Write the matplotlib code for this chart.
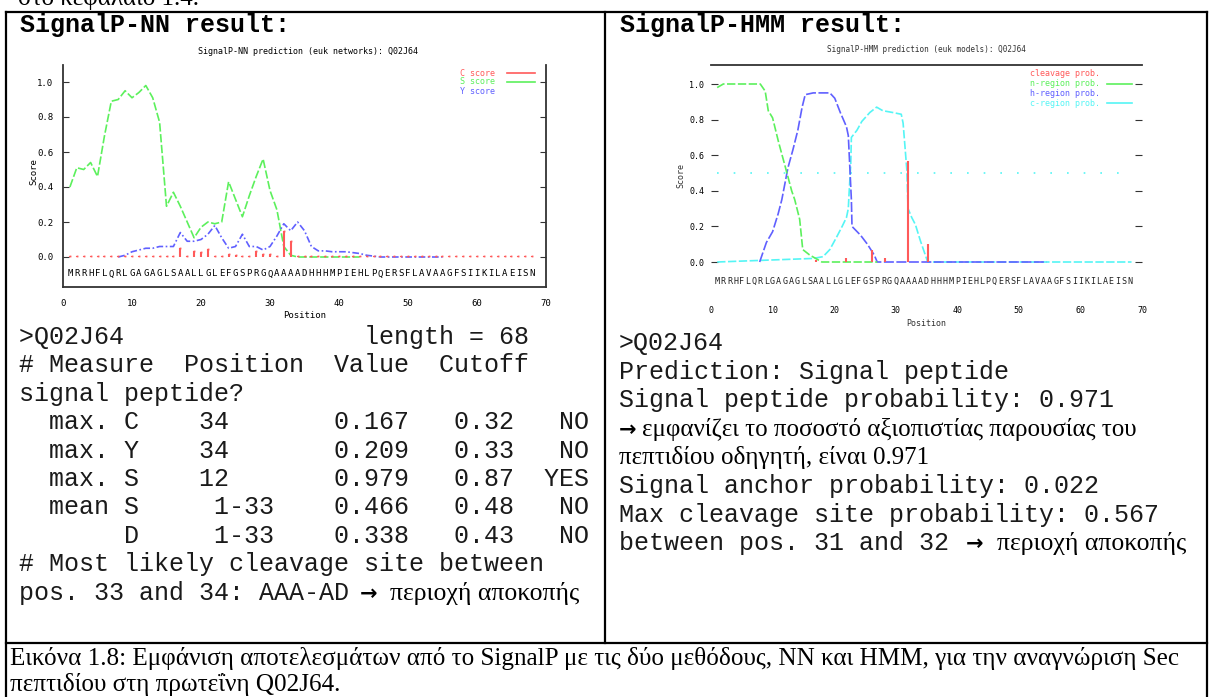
import matplotlib.pyplot as plt
from matplotlib.ticker import FixedLocator

W, H = 1210, 697

# ---------------- data ----------------
sequence = "MRRHFLQRLGAGAGLSAALLGLEFGSPRGQAAAADHHHMPIEHLPQERSFLAVAAGFSIIKILAEISN"

# SignalP-NN
nn_s_pos = list(range(1, 44))
nn_s = [0.40, 0.51, 0.50, 0.54, 0.46, 0.69, 0.89, 0.90, 0.95, 0.91,
        0.94, 0.98, 0.91, 0.77, 0.29, 0.37, 0.29, 0.20, 0.11, 0.17,
        0.20, 0.19, 0.20, 0.43, 0.33, 0.23, 0.35, 0.46, 0.56, 0.38,
        0.27, 0.06, 0.01, 0.0, 0.0, 0.0, 0.0, 0.0, 0.0, 0.0,
        0.0, 0.0, 0.0]
nn_y_pos = list(range(8, 56))
nn_y = [0.0, 0.01, 0.03, 0.04, 0.05, 0.05, 0.06, 0.06, 0.06, 0.14,
        0.09, 0.09, 0.10, 0.13, 0.18, 0.11, 0.05, 0.06, 0.13, 0.06,
        0.06, 0.04, 0.06, 0.12, 0.19, 0.15, 0.20, 0.15, 0.06, 0.035,
        0.035, 0.03, 0.03, 0.03, 0.025, 0.02, 0.01, 0.005, 0.0, 0.0,
        0.0, 0.0, 0.0, 0.0, 0.0, 0.0, 0.0, 0.0]
nn_c_pos = list(range(1, 69))
nn_c = [0.004, 0.004, 0.004, 0.004, 0.004, 0.004, 0.004, 0.004, 0.004, 0.004,
        0.004, 0.004, 0.004, 0.004, 0.004, 0.004, 0.05, 0.004, 0.035, 0.03,
        0.045, 0.004, 0.004, 0.015, 0.012, 0.004, 0.004, 0.035, 0.015, 0.02,
        0.004, 0.15, 0.09, 0.004, 0.004, 0.004, 0.004, 0.004, 0.004, 0.004,
        0.004, 0.004, 0.004, 0.004, 0.004, 0.004, 0.004, 0.004, 0.004, 0.004,
        0.004, 0.004, 0.004, 0.004, 0.004, 0.004, 0.004, 0.004, 0.004, 0.004,
        0.004, 0.004, 0.004, 0.004, 0.004, 0.004, 0.004, 0.004]

# SignalP-HMM
hmm_n_pos = [1, 2, 8, 8.8, 9.3, 10, 11, 12.1, 13.1, 13.6, 14.4, 14.9, 16, 17, 18, 27]
hmm_n = [0.98, 1.0, 1.0, 0.96, 0.85, 0.81, 0.67, 0.53, 0.40, 0.35, 0.24, 0.07, 0.04, 0.02, 0.0, 0.0]
hmm_h_pos = [7.9, 9.0, 10.0, 10.9, 11.5, 12.5, 13.3, 14.1, 14.8, 15.3, 16.6, 19.3, 20.1,
             21.0, 22.0, 22.3, 22.8, 22.9, 24.3, 25.4, 26.5, 27.0, 54.5]
hmm_h = [0.0, 0.11, 0.17, 0.27, 0.35, 0.53, 0.63, 0.74, 0.87, 0.94, 0.95, 0.95, 0.92,
         0.84, 0.76, 0.71, 0.35, 0.20, 0.15, 0.10, 0.04, 0.0, 0.0]
hmm_c_pos = [1, 16.6, 18.2, 19.3, 20.4, 21.3, 22.0, 22.3, 22.4, 22.7, 22.8, 23.7, 24.5, 25.8,
             26.9, 27.9, 29.5, 30.9, 31.2, 31.5, 31.8, 32.0, 32.6, 33.2, 34.0, 34.7, 35.2, 68.3]
hmm_c = [0.0, 0.02, 0.03, 0.07, 0.14, 0.20, 0.25, 0.30, 0.37, 0.55, 0.70, 0.74, 0.79, 0.84,
         0.87, 0.85, 0.84, 0.83, 0.78, 0.65, 0.52, 0.30, 0.25, 0.21, 0.12, 0.05, 0.0, 0.0]
hmm_cl_pos = [17, 22, 26.2, 28.3, 32, 35.2]
hmm_cl = [0.01, 0.025, 0.07, 0.02, 0.567, 0.10]

yticks = [0.0, 0.2, 0.4, 0.6, 0.8, 1.0]
ytick_labels = ['0.0', '0.2', '0.4', '0.6', '0.8', '1.0']
xticks = [0, 10, 20, 30, 40, 50, 60, 70]

nn_lines = [">Q02J64                length = 68",
            "# Measure  Position  Value  Cutoff",
            "signal peptide?",
            "  max. C    34       0.167   0.32   NO",
            "  max. Y    34       0.209   0.33   NO",
            "  max. S    12       0.979   0.87  YES",
            "  mean S     1-33    0.466   0.48   NO",
            "       D     1-33    0.338   0.43   NO",
            "# Most likely cleavage site between",
            "pos. 33 and 34: AAA-AD"]
hmm_lines = [">Q02J64",
             "Prediction: Signal peptide",
             "Signal peptide probability: 0.971",
             None,
             None,
             "Signal anchor probability: 0.022",
             "Max cleavage site probability: 0.567",
             "between pos. 31 and 32"]
greek_note = "περιοχή αποκοπής"
greek_l4 = "εμφανίζει το ποσοστό αξιοπιστίας παρουσίας του"
greek_l5 = "πεπτιδίου οδηγητή, είναι 0.971"
caption1 = "Εικόνα 1.8: Εμφάνιση αποτελεσμάτων από το SignalP με τις δύο μεθόδους, NN και HMM, για την αναγνώριση Sec"
caption2 = "πεπτιδίου στη πρωτεΐνη Q02J64."

RED, GREEN, BLUE, CYAN = '#ff5a5a', '#5cf05c', '#6060ff', '#55f5f5'
MONO = 'Liberation Mono'
SERIF = ['Liberation Serif', 'DejaVu Serif']
TINY = 'DejaVu Sans Mono'
TXT = '#1a1a1a'


def rect(x0, y0, x1, y1):
    return [x0 / W, 1 - y1 / H, (x1 - x0) / W, (y1 - y0) / H]


fig = plt.figure(figsize=(W / 100, H / 100), dpi=100)
bg = fig.add_axes([0, 0, 1, 1])
bg.set_xlim(0, W)
bg.set_ylim(H, 0)
bg.axis('off')

# table frame
lw = 1.6
bg.plot([6, 1207], [12, 12], color='k', lw=lw)
bg.plot([6, 1207], [643, 643], color='k', lw=lw)
bg.plot([6, 6], [12, 697], color='k', lw=lw)
bg.plot([1207, 1207], [12, 697], color='k', lw=lw)
bg.plot([605, 605], [12, 643], color='k', lw=lw)

bg.text(18, 5, "στο κεφάλαιο 1.4.", family=SERIF, fontsize=18, va='baseline')
bg.text(20, 32, "SignalP-NN result:", family=MONO, fontsize=18, weight='bold', va='baseline')
bg.text(620, 32, "SignalP-HMM result:", family=MONO, fontsize=18, weight='bold', va='baseline')

# ---------------- NN chart ----------------
ax1 = fig.add_axes(rect(63, 65, 546, 287))
ax1.patch.set_visible(False)
ax1.set_xlim(0, 70)
ax1.set_ylim((257 - 287) / 175, (257 - 65) / 175)
for s in ['left', 'bottom', 'right']:
    ax1.spines[s].set_color('#333333')
    ax1.spines[s].set_linewidth(1.3)
ax1.spines['top'].set_visible(False)
ax1.set_yticks(yticks)
ax1.set_yticklabels(ytick_labels, family=TINY)
ax1.set_xticks(xticks)
ax1.set_xticklabels([str(v) for v in xticks], family=TINY)
ax1.xaxis.set_minor_locator(FixedLocator([20, 30, 40]))
ax1.tick_params(axis='y', direction='in', length=4, right=True, labelsize=6.5, pad=7, color='#333333')
ax1.tick_params(axis='x', which='major', length=0, labelsize=6.5, pad=9)
ax1.tick_params(axis='x', which='minor', direction='in', length=4, top=True, color='#333333')

ax1.plot(nn_s_pos, nn_s, color=GREEN, lw=1.2, ls=(0, (5, 1.5)))
ax1.plot(nn_y_pos, nn_y, color=BLUE, lw=1.2, ls=(0, (4, 1.5, 1, 1.5)))
ax1.vlines(nn_c_pos, 0, nn_c, color=RED, lw=1.5)
ax1.plot(nn_c_pos, nn_c, ls='none', marker='s', ms=1.3, mew=0, color=RED)
for i, aa in enumerate(sequence, 1):
    ax1.text(i, -0.097, aa, ha='center', va='center', fontsize=6.5, family=TINY)

bg.text(308, 51, "SignalP-NN prediction (euk networks): Q02J64", family=TINY, fontsize=6, ha='center', va='center')
bg.text(305, 316, "Position", family=TINY, fontsize=6.5, ha='center', va='center')
bg.text(34, 172, "Score", family=TINY, fontsize=6.5, rotation=90, ha='center', va='center')
for j, (lab, col) in enumerate([("C score", RED), ("S score", GREEN), ("Y score", BLUE)]):
    bg.text(460, 73 + 9 * j, lab, color=col, family=TINY, fontsize=6, va='center')
    if j < 2:
        bg.plot([507, 535], [73 + 9 * j, 73 + 9 * j], color=col, lw=1.2)

# ---------------- HMM chart ----------------
ax2 = fig.add_axes(rect(711, 65, 1142, 300))
ax2.patch.set_visible(False)
ax2.set_xlim(0, 70)
ax2.set_ylim((262 - 300) / 178, (262 - 65) / 178)
for s in ['left', 'bottom', 'right']:
    ax2.spines[s].set_visible(False)
ax2.spines['top'].set_color('#333333')
ax2.spines['top'].set_linewidth(1.3)
ax2.set_yticks(yticks)
ax2.set_yticklabels(ytick_labels, family=TINY)
ax2.set_xticks(xticks)
ax2.set_xticklabels([str(v) for v in xticks], family=TINY)
ax2.xaxis.set_minor_locator(FixedLocator([10, 50]))
ax2.tick_params(axis='y', direction='in', length=5, right=True, labelsize=6, pad=5, color='#333333')
ax2.tick_params(axis='x', which='major', length=0, labelsize=6, pad=4)
ax2.tick_params(axis='x', which='minor', direction='in', length=5, top=True, color='#333333')

ax2.axhline(0.5, xmin=1 / 70, xmax=68.3 / 70, color=CYAN, lw=1.2, ls=(0, (1, 9)))
ax2.plot(hmm_c_pos, hmm_c, color=CYAN, lw=1.2, ls=(0, (5, 1.5)))
ax2.plot(hmm_h_pos, hmm_h, color=BLUE, lw=1.2, ls=(0, (6, 1.5)))
ax2.plot(hmm_n_pos, hmm_n, color=GREEN, lw=1.2, ls=(0, (5, 1.5)))
ax2.vlines(hmm_cl_pos, 0, hmm_cl, color=RED, lw=1.5)
for i, aa in enumerate(sequence, 1):
    ax2.text(i, -0.107, aa, ha='center', va='center', fontsize=6, family=TINY, color='#222222')

bg.text(926, 49, "SignalP-HMM prediction (euk models): Q02J64", family=TINY, fontsize=5.5, ha='center',
        va='center', color='#333333')
bg.text(926, 323, "Position", family=TINY, fontsize=6, ha='center', va='center', color='#333333')
bg.text(681, 175, "Score", family=TINY, fontsize=6, rotation=90, ha='center', va='center', color='#333333')
for j, (lab, col) in enumerate([("cleavage prob.", RED), ("n-region prob.", GREEN),
                                ("h-region prob.", BLUE), ("c-region prob.", CYAN)]):
    yy = 74 + 9.7 * j
    bg.text(1100, yy, lab, color=col, family=TINY, fontsize=6, va='center', ha='right')
    if j in (1, 3):
        bg.plot([1107, 1132], [yy, yy], color=col, lw=1.2)

# ---------------- text blocks ----------------
for k, line in enumerate(nn_lines):
    bg.text(19, 344 + 28.4 * k, line, family=MONO, fontsize=18, va='baseline', color=TXT)
bg.text(360, 344 + 28.4 * 9, "→", family='DejaVu Sans', fontsize=15, va='baseline', weight='bold')
bg.text(390, 344 + 28.4 * 9, greek_note, family=SERIF, fontsize=18.5, va='baseline')

for k, line in enumerate(hmm_lines):
    if line is not None:
        bg.text(619, 350 + 28.6 * k, line, family=MONO, fontsize=18, va='baseline', color=TXT)
bg.text(619, 350 + 28.6 * 3, "→", family='DejaVu Sans', fontsize=15, va='baseline', weight='bold')
bg.text(642, 350 + 28.6 * 3, greek_l4, family=SERIF, fontsize=18, va='baseline')
bg.text(619, 350 + 28.6 * 4, greek_l5, family=SERIF, fontsize=18, va='baseline')
bg.text(966, 350 + 28.6 * 7, "→", family='DejaVu Sans', fontsize=15, va='baseline', weight='bold')
bg.text(997, 350 + 28.6 * 7, greek_note, family=SERIF, fontsize=18.5, va='baseline')

bg.text(10, 665, caption1, family=SERIF, fontsize=18.1, va='baseline')
bg.text(10, 691, caption2, family=SERIF, fontsize=18.1, va='baseline')

fig.savefig('out.png', dpi=100)
